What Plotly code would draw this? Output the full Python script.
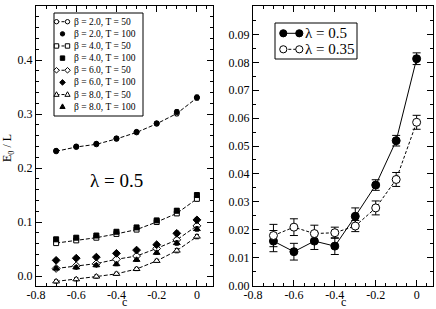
import plotly.graph_objects as go

c = [-0.7, -0.6, -0.5, -0.4, -0.3, -0.2, -0.1, 0.0]

# Tick labels
x_tickvals = [-0.8, -0.6, -0.4, -0.2, 0.0]
x_ticktext = ["-0.8", "-0.6", "-0.4", "-0.2", "0"]

# Left panel (lambda = 0.5)
b2_T50 = [0.231, 0.239, 0.244, 0.254, 0.266, 0.282, 0.301, 0.330]
b2_T100 = [0.232, 0.240, 0.245, 0.255, 0.267, 0.283, 0.304, 0.331]
b4_T50 = [0.061, 0.066, 0.071, 0.078, 0.086, 0.100, 0.116, 0.143]
b4_T100 = [0.068, 0.071, 0.075, 0.082, 0.090, 0.103, 0.121, 0.150]
b6_T50 = [0.014, 0.019, 0.023, 0.031, 0.037, 0.051, 0.067, 0.093]
b6_T100 = [0.029, 0.033, 0.035, 0.042, 0.048, 0.058, 0.079, 0.104]
b8_T50 = [-0.010, -0.006, -0.001, 0.004, 0.013, 0.028, 0.047, 0.073]
b8_T100 = [0.014, 0.016, 0.020, 0.022, 0.030, 0.043, 0.061, 0.087]
err_left = [0.003, 0.003, 0.003, 0.003, 0.003, 0.003, 0.004, 0.004]

# Right panel
lam05 = [0.0159, 0.0121, 0.0159, 0.0141, 0.0248, 0.0360, 0.0519, 0.0813]
lam05_err = [0.0038, 0.0030, 0.0030, 0.0030, 0.0030, 0.0019, 0.0019, 0.0021]
lam035 = [0.0179, 0.0209, 0.0186, 0.0189, 0.0213, 0.0278, 0.0380, 0.0585]
lam035_err = [0.0040, 0.0030, 0.0030, 0.0020, 0.0020, 0.0025, 0.0025, 0.0025]

left_names = ["β = 2.0, T = 50", "β = 2.0, T = 100", "β = 4.0, T = 50", "β = 4.0, T = 100",
              "β = 6.0, T = 50", "β = 6.0, T = 100", "β = 8.0, T = 50", "β = 8.0, T = 100"]
left_values = [b2_T50, b2_T100, b4_T50, b4_T100, b6_T50, b6_T100, b8_T50, b8_T100]
left_symbols = ["circle", "circle", "square", "square", "diamond", "diamond",
                "triangle-up", "triangle-up"]
left_filled = [False, True, False, True, False, True, False, True]
right_names = ["λ = 0.5", "λ = 0.35"]

FONT = "Liberation Serif, Times New Roman, serif"
W, H = 436, 309
ML, MR, MT, MB = 36, 3, 6, 23
PW, PH = W - ML - MR, H - MT - MB

def px(xp):
    return (xp - ML) / PW

def py(yp):
    return (H - MB - yp) / PH

fig = go.Figure()

def msize(sym):
    return 6 if sym in ("diamond", "triangle-up") else 5

for name, vals, sym, filled in zip(left_names, left_values, left_symbols, left_filled):
    fig.add_trace(go.Scatter(
        x=c, y=vals, name=name, xaxis="x", yaxis="y", showlegend=False,
        mode="markers" if filled else "lines+markers",
        line=dict(color="black", width=1, dash="4px,2px"),
        marker=dict(symbol=sym, size=msize(sym),
                    color="black" if filled else "white",
                    line=dict(color="black", width=1)),
        error_y=dict(type="data", array=err_left, color="black", thickness=1, width=2),
    ))

r_dash = ["solid", "3px,2px"]
r_fill = ["black", "white"]
for name, vals, errs, dash, fill in zip(right_names, [lam05, lam035], [lam05_err, lam035_err], r_dash, r_fill):
    fig.add_trace(go.Scatter(
        x=c, y=vals, name=name, xaxis="x2", yaxis="y2", showlegend=False,
        mode="lines+markers", line=dict(color="black", width=1, dash=dash),
        marker=dict(symbol="circle", size=8, color=fill, line=dict(color="black", width=1)),
        error_y=dict(type="data", array=errs, color="black", thickness=1, width=4),
    ))

# ---- hand-built legends (shapes in paper space, pixel-sized symbols) ----
shapes = []
annotations = []

def symbol_shape(sym, xp, yp, r, filled):
    base = dict(xref="paper", yref="paper", xsizemode="pixel", ysizemode="pixel",
                xanchor=px(xp), yanchor=py(yp),
                line=dict(color="black", width=1),
                fillcolor="black" if filled else "white", layer="above")
    if sym == "circle":
        return dict(type="circle", x0=-r, x1=r, y0=-r, y1=r, **base)
    if sym == "square":
        return dict(type="rect", x0=-r, x1=r, y0=-r, y1=r, **base)
    if sym == "diamond":
        p = f"M 0,{r+0.6} L {r+0.6},0 L 0,{-r-0.6} L {-r-0.6},0 Z"
        return dict(type="path", path=p, **base)
    p = f"M {-r-0.4},{-r+0.4} L {r+0.4},{-r+0.4} L 0,{r+0.6} Z"
    return dict(type="path", path=p, **base)

def hline(x0p, x1p, yp, dash):
    return dict(type="line", xref="paper", yref="paper", x0=px(x0p), x1=px(x1p),
                y0=py(yp), y1=py(yp), line=dict(color="black", width=1, dash=dash), layer="above")

def box(x0p, y0p, x1p, y1p):
    return dict(type="rect", xref="paper", yref="paper", x0=px(x0p), x1=px(x1p),
                y0=py(y0p), y1=py(y1p), line=dict(color="black", width=1),
                fillcolor="white", layer="above")

# left legend
shapes.append(box(54, 13, 143, 116))
row0, drow = 21.7, 12.14
for i, (name, sym, filled) in enumerate(zip(left_names, left_symbols, left_filled)):
    yy = row0 + i * drow
    if filled:
        shapes.append(symbol_shape(sym, 62.5, yy, 2.2, True))
    else:
        shapes.append(hline(56.5, 67.5, yy, "3px,2px"))
        shapes.append(symbol_shape(sym, 56.5, yy, 2.2, False))
        shapes.append(symbol_shape(sym, 67.5, yy, 2.2, False))
    annotations.append(dict(text=name, xref="paper", yref="paper", x=px(72.0), y=py(yy),
                            xanchor="left", yanchor="middle", showarrow=False,
                            font=dict(family=FONT, size=9.5, color="black")))
# right legend
shapes.append(box(275, 23, 357, 59))
for i, (name, dash, fill) in enumerate(zip(right_names, r_dash, r_fill)):
    yy = 33.3 + i * 16
    shapes.append(hline(283.3, 299.3, yy, dash))
    shapes.append(symbol_shape("circle", 283.3, yy, 3.6, fill == "black"))
    shapes.append(symbol_shape("circle", 299.3, yy, 3.6, fill == "black"))
    annotations.append(dict(text=name, xref="paper", yref="paper", x=px(302.5), y=py(yy),
                            xanchor="left", yanchor="middle", showarrow=False,
                            font=dict(family=FONT, size=15, color="black")))

annotations += [
    dict(text="λ = 0.5", xref="x", yref="y", x=-0.4, y=0.177, showarrow=False,
         font=dict(family=FONT, size=19, color="black")),
    dict(text="c", xref="x", yref="paper", x=-0.36, y=py(310), yanchor="bottom",
         showarrow=False, borderpad=0, font=dict(family=FONT, size=12, color="black")),
    dict(text="c", xref="x2", yref="paper", x=-0.36, y=py(310), yanchor="bottom",
         showarrow=False, borderpad=0, font=dict(family=FONT, size=12, color="black")),
    dict(text="E<sub>0</sub> / L", xref="paper", yref="paper", x=px(8), y=py(148),
         textangle=-90, xanchor="center", yanchor="middle", showarrow=False,
         font=dict(family=FONT, size=12, color="black")),
]

axis_common = dict(
    showline=True, linecolor="black", linewidth=1, mirror="allticks",
    ticks="inside", ticklen=6, tickcolor="black", showgrid=False, zeroline=False,
    automargin=False,
    tickfont=dict(family=FONT, size=12, color="black"),
)
xr = [-0.8, 0.08]
fig.update_layout(
    width=W, height=H,
    margin=dict(l=ML, r=MR, t=MT, b=MB),
    paper_bgcolor="white", plot_bgcolor="white",
    font=dict(family=FONT, color="black"),
    showlegend=False,
    xaxis=dict(domain=[0, px(213)], range=xr, tickmode="array", tickvals=x_tickvals,
               ticktext=x_ticktext, ticklabelstandoff=-2,
               minor=dict(ticks="inside", ticklen=3, dtick=0.05, tickcolor="black"),
               **axis_common),
    yaxis=dict(domain=[0, 1], range=[-0.0185, 0.5002], dtick=0.1, tickformat=".1f",
               minor=dict(ticks="inside", ticklen=3, dtick=0.02, tickcolor="black"),
               **axis_common),
    xaxis2=dict(domain=[px(253), 1], range=xr, tickmode="array", tickvals=x_tickvals,
                ticktext=x_ticktext, anchor="y2", ticklabelstandoff=-2,
                minor=dict(ticks="inside", ticklen=3, dtick=0.05, tickcolor="black"),
                **axis_common),
    yaxis2=dict(domain=[0, 1], range=[-0.0002, 0.1002], dtick=0.01, tickformat=".2f", anchor="x2",
                minor=dict(ticks="inside", ticklen=3, dtick=0.005, tickcolor="black"),
                **axis_common),
    shapes=shapes,
    annotations=annotations,
)

fig.write_html("out.html", config={"displayModeBar": False},
               post_script="document.body.style.margin='0';document.body.style.padding='0';")
